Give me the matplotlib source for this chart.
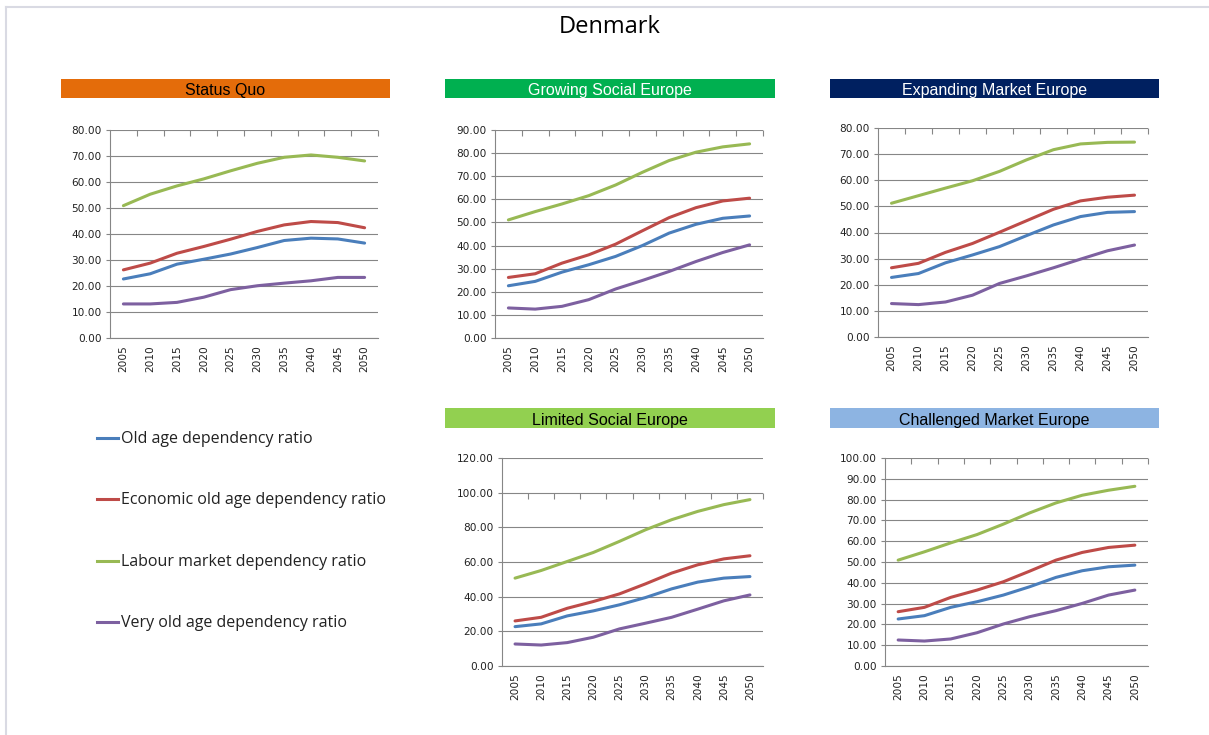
import matplotlib.pyplot as plt
from matplotlib.patches import Rectangle
from matplotlib.lines import Line2D

W, H = 1209, 735

years = [2005, 2010, 2015, 2020, 2025, 2030, 2035, 2040, 2045, 2050]
series_names = ["Old age dependency ratio",
                "Economic old age dependency ratio",
                "Labour market dependency ratio",
                "Very old age dependency ratio"]
series_colors = ["#4A7EBB", "#BE4B48", "#98B954", "#7D60A0"]

# Status Quo
sq_old = [22.7, 24.7, 28.4, 30.3, 32.3, 34.8, 37.5, 38.4, 38.1, 36.5]
sq_econ = [26.2, 28.8, 32.6, 35.2, 38.0, 41.0, 43.5, 44.8, 44.4, 42.4]
sq_labour = [50.9, 55.3, 58.5, 61.2, 64.3, 67.2, 69.5, 70.4, 69.5, 68.1]
sq_very = [13.1, 13.1, 13.7, 15.7, 18.6, 20.1, 21.1, 22.0, 23.3, 23.3]

# Growing Social Europe
gse_old = [22.6, 24.5, 28.5, 31.7, 35.3, 40.0, 45.4, 49.2, 51.8, 52.8]
gse_econ = [26.2, 27.8, 32.4, 36.0, 40.6, 46.4, 52.1, 56.4, 59.3, 60.5]
gse_labour = [51.1, 54.7, 58.0, 61.6, 66.2, 71.7, 76.8, 80.4, 82.7, 84.0]
gse_very = [13.0, 12.5, 13.7, 16.6, 21.2, 24.9, 28.8, 33.1, 37.0, 40.3]

# Expanding Market Europe
eme_old = [22.8, 24.3, 28.4, 31.4, 34.6, 38.8, 42.9, 46.1, 47.7, 48.0]
eme_econ = [26.5, 28.2, 32.4, 35.8, 40.1, 44.5, 48.9, 52.1, 53.5, 54.3]
eme_labour = [51.2, 54.1, 57.0, 59.8, 63.4, 67.8, 71.7, 73.9, 74.5, 74.6]
eme_very = [12.8, 12.4, 13.4, 16.0, 20.5, 23.4, 26.5, 29.8, 33.0, 35.2]

# Limited Social Europe
lse_old = [22.7, 24.3, 28.9, 31.8, 35.3, 39.5, 44.5, 48.4, 50.7, 51.6]
lse_econ = [26.0, 28.1, 33.3, 37.2, 41.6, 47.4, 53.6, 58.4, 61.8, 63.6]
lse_labour = [50.7, 55.1, 60.3, 65.5, 71.9, 78.6, 84.4, 89.2, 93.1, 96.0]
lse_very = [12.7, 12.1, 13.5, 16.6, 21.4, 24.7, 28.1, 32.8, 37.6, 41.0]

# Challenged Market Europe
cme_old = [22.6, 24.2, 28.2, 30.9, 34.1, 38.1, 42.6, 45.8, 47.7, 48.5]
cme_econ = [26.1, 28.2, 33.0, 36.5, 40.5, 45.6, 50.9, 54.6, 57.0, 58.1]
cme_labour = [50.9, 54.9, 59.2, 63.2, 68.2, 73.6, 78.4, 82.1, 84.5, 86.4]
cme_very = [12.5, 12.0, 13.0, 16.0, 20.2, 23.7, 26.6, 30.1, 34.1, 36.5]

panels = [
    # title, bar colour, title colour, data, ymax, ystep, axes box px (l, t, r, b), bar box px
    ("Status Quo", "#E46C0A", "black", [sq_old, sq_econ, sq_labour, sq_very],
     80, 10, (110, 130, 378, 338), (61, 79, 390, 98), None),
    ("Growing Social Europe", "#00B050", "white", [gse_old, gse_econ, gse_labour, gse_very],
     90, 10, (495, 130, 763, 338), (445, 79, 775, 98), None),
    ("Expanding Market Europe", "#002060", "white", [eme_old, eme_econ, eme_labour, eme_very],
     80, 10, (878, 128, 1148, 337), (830, 79, 1159, 98), None),
    ("Limited Social Europe", "#92D050", "black", [lse_old, lse_econ, lse_labour, lse_very],
     120, 20, (502, 458, 763, 666), (445, 408, 775, 428), 100),
    ("Challenged Market Europe", "#8DB4E2", "black", [cme_old, cme_econ, cme_labour, cme_very],
     100, 10, (885, 458, 1148, 666), (830, 408, 1159, 428), None),
]

fig = plt.figure(figsize=(W / 100, H / 100), dpi=100)
fig.patch.set_facecolor("white")

# slide frame
fig.add_artist(Line2D([6 / W, 1], [1 - 7 / H, 1 - 7 / H], color="#D9DAE3", lw=1.5))
fig.add_artist(Line2D([6 / W, 6 / W], [0, 1 - 7 / H], color="#D9DAE3", lw=1.5))

fig.text(610 / W, 1 - 27 / H, "Denmark", ha="center", va="center",
         fontsize=17, family="Open Sans", color="black")

grid_col = "#868686"
x = list(range(len(years)))

for title, bcol, tcol, data, ymax, ystep, box, bar, tick_y in panels:
    l, t, r, b = box
    ax = fig.add_axes([l / W, 1 - b / H, (r - l) / W, (b - t) / H])
    for vals, col in zip(data, series_colors):
        ax.plot(x, vals, color=col, lw=2.2, solid_capstyle="round")
    ax.set_xlim(-0.5, len(years) - 0.5)
    ax.set_ylim(0, ymax)
    ax.set_yticks(range(0, ymax + 1, ystep))
    ax.set_yticklabels([f"{v:.2f}" for v in range(0, ymax + 1, ystep)])
    ax.set_xticks(x)
    ax.set_xticklabels([str(y) for y in years], rotation=90)
    ax.tick_params(axis="x", length=0, pad=5, labelsize=7.6, labelcolor="#222222")
    ax.tick_params(axis="y", length=3, color=grid_col, labelsize=7.6, labelcolor="#222222", pad=3)
    ax.grid(axis="y", color=grid_col, lw=0.8)
    ax.set_axisbelow(True)
    for side in ["top", "right"]:
        ax.spines[side].set_visible(False)
    for side in ["left", "bottom"]:
        ax.spines[side].set_color(grid_col)
        ax.spines[side].set_linewidth(0.8)
    # category tick marks hanging from the top gridline
    loc = 1.0 if tick_y is None else tick_y / ymax
    sec = ax.secondary_xaxis(loc)
    sec.set_xticks([i + 0.5 for i in x])
    sec.tick_params(direction="in", length=4, color=grid_col, labeltop=False)
    sec.spines["top"].set_visible(False)

    bl, bt, br, bb = bar
    fig.add_artist(Rectangle((bl / W, 1 - bb / H), (br - bl) / W, (bb - bt) / H,
                             transform=fig.transFigure, facecolor=bcol, edgecolor="none"))
    fig.text((bl + br) / 2 / W, 1 - ((bt + bb) / 2 + 2) / H, title, ha="center", va="center",
             fontsize=11.5, color=tcol, family="Liberation Sans")

# legend
leg_y = [438, 499, 561, 622]
for name, col, yy in zip(series_names, series_colors, leg_y):
    fig.add_artist(Line2D([97 / W, 118 / W], [1 - yy / H, 1 - yy / H], color=col, lw=2.2))
    fig.text(121 / W, 1 - (yy + 1) / H, name, ha="left", va="center",
             fontsize=11.5, family="Open Sans", color="#222222")

fig.savefig("out.png", dpi=100)
